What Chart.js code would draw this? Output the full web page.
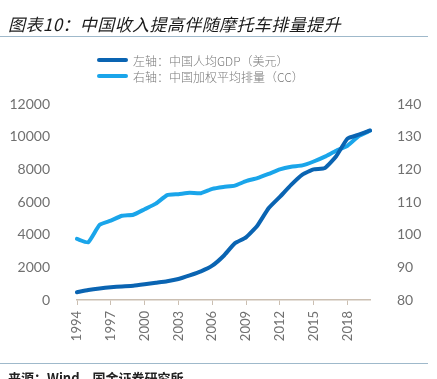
<!DOCTYPE html>
<html><head><meta charset="utf-8">
<script src="https://cdn.jsdelivr.net/npm/chart.js@4/dist/chart.umd.min.js"></script>
<style>
html,body{margin:0;padding:0;background:#fff;}
body{width:437px;height:379px;position:relative;overflow:hidden;font-family:"Noto Sans CJK SC","Noto Sans",sans-serif;}
#c{position:absolute;left:0;top:0;}
#title{position:absolute;left:8px;top:11px;font-size:17px;font-style:italic;font-weight:400;color:#1a1a1a;letter-spacing:0.4px;white-space:nowrap;}
#hr1{position:absolute;left:0;top:36px;width:428px;height:1px;background:#9fb9cb;}
#hr2{position:absolute;left:0;top:363px;width:428px;height:1px;background:#9fb9cb;}
#src{position:absolute;left:8px;top:368px;font-size:13px;font-weight:bold;color:#222;white-space:nowrap;}
#legend{position:absolute;left:97px;top:52px;font-size:12px;color:#7a7a7a;font-weight:300;}
.li{height:16px;display:flex;align-items:center;white-space:nowrap;}
.sw{width:31px;height:4px;border-radius:2px;margin-right:5px;}
</style></head>
<body>
<canvas id="c" width="437" height="379"></canvas>
<div id="title">图表10：中国收入提高伴随摩托车排量提升</div>
<div id="hr1"></div>
<div id="legend"></div>
<div id="hr2"></div>
<div id="src">来源：Wind，国金证券研究所</div>
<script>
const years = [1994,1995,1996,1997,1998,1999,2000,2001,2002,2003,2004,2005,2006,2007,2008,2009,2010,2011,2012,2013,2014,2015,2016,2017,2018,2019,2020];
const gdpPerCapita = [473,610,709,781,829,873,959,1053,1149,1289,1509,1753,2099,2694,3468,3832,4550,5618,6317,7051,7679,8000,8080,8800,9880,10120,10380];
const avgDisplacement = [98.7,97.7,103.0,104.3,105.8,106.1,107.8,109.5,112.1,112.4,112.8,112.7,114.0,114.6,115.0,116.4,117.3,118.6,120.0,120.8,121.2,122.4,123.9,125.7,127.2,130.2,131.8];
const seriesNames = ["左轴：中国人均GDP（美元）","右轴：中国加权平均排量（CC）"];
const seriesColors = ["#0a64b2","#1aa5ea"];
const leftTicks = {min:0,max:12000,step:2000};
const rightTicks = {min:80,max:140,step:10};

const lg = document.getElementById('legend');
seriesNames.forEach((n,i)=>{
  const d=document.createElement('div');d.className='li';
  d.innerHTML='<span class="sw" style="background:'+seriesColors[i]+'"></span><span>'+n+'</span>';
  lg.appendChild(d);
});

const tickFont = {family:"Lato, 'Open Sans', sans-serif", size:14};
new Chart(document.getElementById('c'), {
  type:'line',
  data:{
    labels: years.map(String),
    datasets:[
      {label:seriesNames[0],data:gdpPerCapita,borderColor:seriesColors[0],backgroundColor:seriesColors[0],borderWidth:4,pointRadius:0,tension:0.15,yAxisID:'y',borderCapStyle:'round'},
      {label:seriesNames[1],data:avgDisplacement,borderColor:seriesColors[1],backgroundColor:seriesColors[1],borderWidth:4,pointRadius:0,tension:0.15,yAxisID:'y1',borderCapStyle:'round'}
    ]
  },
  options:{
    responsive:false,animation:false,
    layout:{padding:{top:104,left:0,right:0,bottom:0}},
    plugins:{legend:{display:false},tooltip:{enabled:false}},
    scales:{
      x:{
        offset:false,
        grid:{display:true,drawOnChartArea:false,drawTicks:true,tickLength:5,color:'#cbbfb2'},
        border:{display:true,color:'#cbbfb2',width:1.5},
        ticks:{autoSkip:false,minRotation:90,maxRotation:90,padding:6,color:'#707070',font:{family:"Lato, 'Open Sans', sans-serif",size:13},
          callback:function(v,i){const y=years[i];return ((y-1994)%3===0 && y<=2018)?String(y):null;}},
        afterFit:function(s){s.height=79;}
      },
      y:{
        position:'left',min:leftTicks.min,max:leftTicks.max,
        grid:{display:false},border:{display:false},
        ticks:{stepSize:leftTicks.step,padding:19,color:'#707070',font:tickFont,callback:v=>String(v)},
        afterFit:function(s){s.width=77;}
      },
      y1:{
        position:'right',min:rightTicks.min,max:rightTicks.max,
        grid:{display:false},border:{display:false},
        ticks:{stepSize:rightTicks.step,padding:19,color:'#707070',font:tickFont,callback:v=>String(v)},
        afterFit:function(s){s.width=67;}
      }
    }
  }
});
</script>
</body></html>
